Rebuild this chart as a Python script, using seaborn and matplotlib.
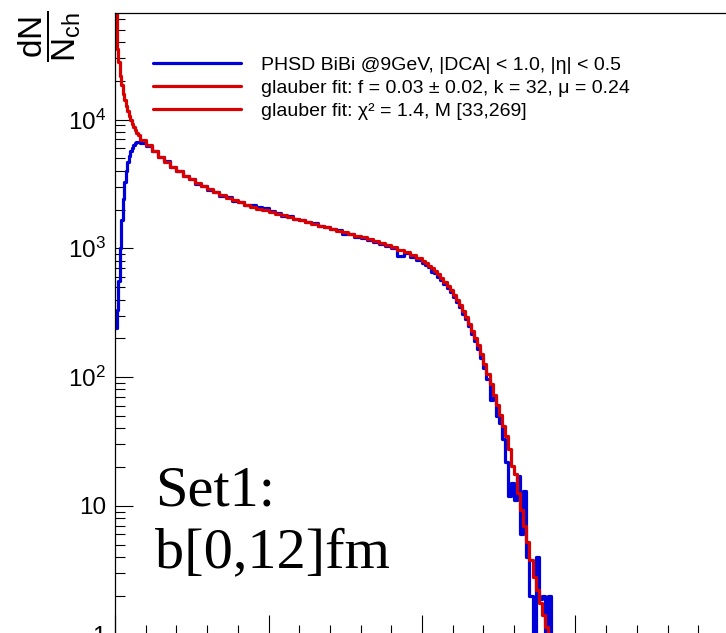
import numpy as np
import pandas as pd
import matplotlib
matplotlib.use("Agg")
import matplotlib.pyplot as plt
import seaborn as sns
from matplotlib.ticker import MultipleLocator, LogLocator, FuncFormatter, NullFormatter

# ---------------- data ----------------
# bin edges of the multiplicity histograms (N_ch)
edges = np.concatenate([np.arange(0, 17, 1), np.arange(20, 201, 4), np.arange(202, 287, 2)])

# PHSD BiBi @9GeV histogram (counts per bin)
phsd_counts = [
    240, 330, 560, 1000, 1650, 2400, 3300, 4000, 4700, 5200, 5650, 6000, 6300, 6550, 6700, 6750,
    6600, 6200, 5720, 5120, 4740, 4250, 3990, 3640, 3460, 3180, 3060, 2850, 2750, 2570, 2500, 2350,
    2300, 2170, 2150, 2090, 2040, 1960, 1880, 1790, 1770, 1680, 1660, 1590, 1560, 1490, 1470, 1400,
    1380, 1300, 1280, 1220, 1200, 1150, 1120, 1080, 1040, 1000, 870, 915, 850, 815,
    770, 745, 715, 650, 640, 600, 570, 525, 495, 455, 420, 380, 350, 310, 280, 250, 215, 190, 165,
    140, 118, 97, 66, 70, 50, 44, 33, 22, 12, 15, 11, 17, 6, 13, 4, 2, 0, 4, 1.9, 2, 0, 2, 0,
]

# Glauber fit histogram
glauber_counts = [
    80000, 35500, 28000, 21900, 18500, 15700, 14100, 12670, 11650, 10740, 9890, 9250, 8750, 8270, 7890, 7620,
    6998, 6310, 5690, 5152, 4699, 4295, 3954, 3673, 3436, 3221, 3034, 2871, 2723, 2594, 2477, 2371,
    2275, 2188, 2109, 2037, 1972, 1910, 1854, 1799, 1746, 1694, 1644, 1596, 1549, 1503, 1459, 1416,
    1374, 1334, 1294, 1253, 1213, 1175, 1135, 1096, 1057, 1016, 977, 933, 887, 836,
    791, 762, 731, 698, 664, 627, 589, 550, 511, 472, 435, 398, 363, 327, 292, 259, 229, 201, 176,
    151, 126, 105, 87.5, 72.8, 60.5, 50.4, 41.9, 34.7, 27.5, 20.5, 17.5, 12.5, 9.2, 7.0, 5.2, 3.8,
    2.8, 2.2, 1.76, 1.43, 1.15, 0.7, 0.4,
]

legend_labels = [
    "PHSD BiBi @9GeV, |DCA| < 1.0, |η| < 0.5",
    "glauber fit: f = 0.03 ± 0.02, k = 32, μ = 0.24",
    "glauber fit: χ² = 1.4, M [33,269]",
]
annotation = "Set1:\nb[0,12]fm"
ytick_text = {0: "1", 1: "10", 2: r"$10^{2}$", 3: r"$10^{3}$", 4: r"$10^{4}$"}

# ---------------- style ----------------
sns.set_style("white")
plt.rcParams["font.family"] = ["Liberation Sans", "DejaVu Sans"]
plt.rcParams["mathtext.fontset"] = "custom"
plt.rcParams["mathtext.rm"] = "Liberation Sans"
plt.rcParams["mathtext.it"] = "Liberation Sans:italic"
plt.rcParams["mathtext.bf"] = "Liberation Sans:bold"
plt.rcParams["text.color"] = "black"
plt.rcParams["axes.labelcolor"] = "black"
plt.rcParams["xtick.color"] = "black"
plt.rcParams["ytick.color"] = "black"

BLUE = "#0000d8"
RED = "#d80000"

fig = plt.figure(figsize=(7.26, 6.33), dpi=100)
W, H = 726, 633
ax = fig.add_axes([115 / W, -1.5 / H, 614 / W, 1 - 11.2 / H])

df_b = pd.DataFrame({"m": edges, "v": list(phsd_counts) + [phsd_counts[-1]]})
df_r = pd.DataFrame({"m": edges, "v": list(glauber_counts) + [glauber_counts[-1]]})

sns.lineplot(data=df_b, x="m", y="v", drawstyle="steps-post", color=BLUE, lw=2.3,
             estimator=None, ax=ax, legend=False)
sns.lineplot(data=df_r, x="m", y="v", drawstyle="steps-post", color=RED, lw=2.3,
             estimator=None, ax=ax, legend=False)

ax.set_yscale("log")
ax.set_xlim(0, 400)
ax.set_ylim(1, 6.76e4)
ax.set_xlabel("")
ax.set_ylabel("")

ax.xaxis.set_major_locator(MultipleLocator(100))
ax.xaxis.set_minor_locator(MultipleLocator(20))
ax.yaxis.set_major_locator(LogLocator(base=10, numticks=10))
ax.yaxis.set_minor_locator(LogLocator(base=10, subs=np.arange(2, 10), numticks=20))
ax.yaxis.set_major_formatter(FuncFormatter(lambda v, p: ytick_text.get(int(round(np.log10(v))), "")))
ax.yaxis.set_minor_formatter(NullFormatter())

ax.tick_params(axis="x", which="major", direction="in", length=14.5, width=0.8, color="black",
               bottom=True, top=False, labelbottom=False)
ax.tick_params(axis="x", which="minor", direction="in", length=7.5, width=0.8, color="black",
               bottom=True, top=False)
ax.tick_params(axis="y", which="major", direction="in", length=13, width=0.8, color="black",
               left=True, right=False, labelsize=17.5, pad=6.5, labelcolor="black")
ax.tick_params(axis="y", which="minor", direction="in", length=7, width=0.8, color="black",
               left=True, right=False)

for s in ["left", "top", "bottom"]:
    ax.spines[s].set_visible(True)
    ax.spines[s].set_color("black")
    ax.spines[s].set_linewidth(0.9)
ax.spines["right"].set_visible(False)

lines = ax.get_lines()
leg = ax.legend(handles=[lines[0], lines[1], lines[1]], labels=legend_labels, loc="upper left",
                bbox_to_anchor=(153 / W, 1 - 56 / H), bbox_transform=fig.transFigure,
                frameon=False, fontsize=14, handlelength=4.55, handletextpad=1.0,
                labelspacing=0.28, borderpad=0, borderaxespad=0)
for t in leg.get_texts():
    t.set_color("black")

fig.text(50 / W, 1 - 10 / H, r"$\dfrac{\mathrm{dN}}{\mathrm{N}_{\mathrm{ch}}}$", rotation=90,
         ha="center", va="top", fontsize=24, color="black")

fig.text(155 / W, 1 - 466 / H, annotation, family="Liberation Serif", fontsize=42,
         ha="left", va="top", linespacing=1.24, color="black")

fig.savefig("out.png", dpi=100)
